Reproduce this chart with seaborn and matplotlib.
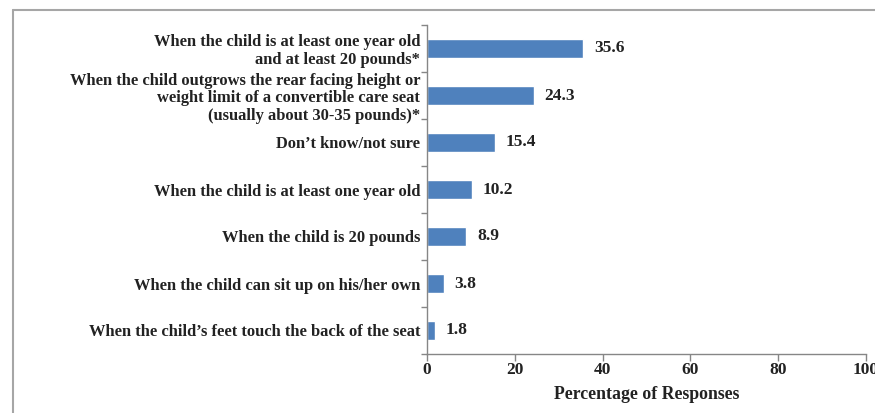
import matplotlib
matplotlib.use("Agg")
import matplotlib.pyplot as plt
import seaborn as sns
import pandas as pd
from matplotlib.lines import Line2D

categories = [
    "When the child is at least one year old\nand at least 20 pounds*",
    "When the child outgrows the rear facing height or\nweight limit of a convertible care seat\n(usually about 30-35 pounds)*",
    "Don\u2019t know/not sure",
    "When the child is at least one year old",
    "When the child is 20 pounds",
    "When the child can sit up on his/her own",
    "When the child\u2019s feet touch the back of the seat",
]
values = [35.6, 24.3, 15.4, 10.2, 8.9, 3.8, 1.8]
xticks = [0, 20, 40, 60, 80, 100]
xlabel = "Percentage of Responses"

sns.set_theme(style="white")
plt.rcParams["font.family"] = ["Liberation Serif", "DejaVu Serif"]
plt.rcParams["font.weight"] = "bold"

df = pd.DataFrame({"cat": categories, "val": values})

fig = plt.figure(figsize=(8.75, 4.13), dpi=100)
ax = fig.add_axes([427 / 875, 1 - 354 / 413, (866 - 427) / 875, (354 - 25) / 413])

sns.barplot(data=df, y="cat", x="val", color="#4F81BD", saturation=1, width=0.4, ax=ax, orient="h")

txtc = "#222222"
for i, v in enumerate(values):
    ax.text(v + 2.5, i, f"{v}", va="center", ha="left", fontsize=12.5, fontweight="bold", color=txtc)

ax.set_xlim(0, 100)
ax.set_ylim(len(categories) - 0.5, -0.5)
ax.set_xticks(xticks)
ax.set_xticklabels([str(t) for t in xticks], fontsize=12.5, fontweight="bold", color=txtc)
ax.set_xlabel(xlabel, fontsize=12.8, fontweight="bold", color=txtc, labelpad=6)
ax.set_ylabel("")
ax.set_yticks(range(len(categories)))
ax.set_yticklabels(categories, fontsize=11.9, fontweight="bold", color=txtc, linespacing=1.12)
ax.set_yticks([i - 0.5 for i in range(len(categories) + 1)], minor=True)
ax.tick_params(axis="y", which="major", length=0, pad=5)
ax.tick_params(axis="y", which="minor", length=4, color="#868686", width=1, left=True)
ax.tick_params(axis="x", which="major", length=5, color="#868686", width=1, bottom=True, pad=0.5)

for s in ["top", "right"]:
    ax.spines[s].set_visible(False)
for s in ["left", "bottom"]:
    ax.spines[s].set_color("#868686")
    ax.spines[s].set_linewidth(1)

# outer frame (left and top edges)
fig.add_artist(Line2D([12.5 / 875, 12.5 / 875], [0, 1 - 10 / 413], color="#A6A6A6", lw=1.5, transform=fig.transFigure))
fig.add_artist(Line2D([12.5 / 875, 1], [1 - 10 / 413, 1 - 10 / 413], color="#A6A6A6", lw=1.5, transform=fig.transFigure))

fig.savefig("out.png", dpi=100, facecolor="white")
